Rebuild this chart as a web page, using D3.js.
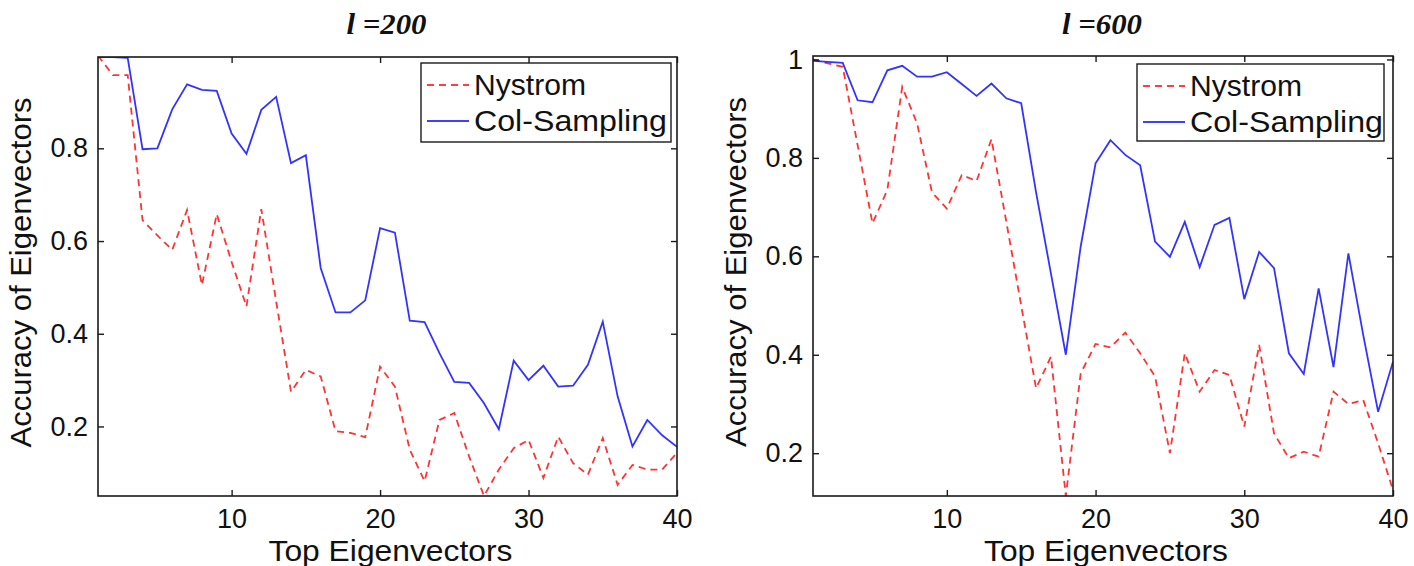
<!DOCTYPE html>
<html>
<head>
<meta charset="utf-8">
<script src="https://cdn.jsdelivr.net/npm/d3@7"></script>
<style>
  html, body { margin: 0; padding: 0; background: #fff; }
  svg { display: block; }
  text { font-family: Arial, "Liberation Sans", sans-serif; fill: #111; }
</style>
</head>
<body>
<svg id="chart" width="1414" height="566"></svg>
<script>
// ---- data ----
const components = d3.range(1, 41);
const seriesNames = ["Nystrom", "Col-Sampling"];
const panelTitles = ["200", "600"];

const nystrom200 = [1.0, 0.958, 0.958, 0.645, 0.612, 0.581, 0.667, 0.505, 0.658, 0.555,
  0.459, 0.669, 0.47, 0.275, 0.322, 0.308, 0.19, 0.186, 0.177, 0.329,
  0.286, 0.15, 0.082, 0.214, 0.229, 0.135, 0.05, 0.107, 0.153, 0.171,
  0.089, 0.178, 0.121, 0.096, 0.175, 0.074, 0.117, 0.107, 0.107, 0.143];
const colSampling200 = [0.997, 0.997, 0.995, 0.798, 0.80, 0.884, 0.938, 0.926, 0.924, 0.832,
  0.788, 0.883, 0.911, 0.768, 0.785, 0.542, 0.446, 0.446, 0.472, 0.628,
  0.618, 0.428, 0.425, 0.358, 0.296, 0.294, 0.25, 0.194, 0.342, 0.30,
  0.331, 0.286, 0.288, 0.333, 0.426, 0.265, 0.157, 0.214, 0.181, 0.156];
const nystrom600 = [1.0, 0.992, 0.985, 0.826, 0.667, 0.735, 0.944, 0.87, 0.73, 0.697,
  0.765, 0.753, 0.838, 0.67, 0.50, 0.332, 0.396, 0.113, 0.362, 0.422,
  0.415, 0.445, 0.403, 0.356, 0.20, 0.403, 0.325, 0.369, 0.359, 0.254,
  0.42, 0.24, 0.19, 0.203, 0.193, 0.325, 0.30, 0.308, 0.22, 0.125];
const colSampling600 = [0.997, 0.995, 0.993, 0.917, 0.913, 0.978, 0.987, 0.965, 0.965, 0.974,
  0.95, 0.926, 0.951, 0.921, 0.911, 0.73, 0.565, 0.40, 0.62, 0.789,
  0.836, 0.806, 0.785, 0.63, 0.599, 0.67, 0.578, 0.664, 0.678, 0.513,
  0.609, 0.576, 0.403, 0.361, 0.535, 0.375, 0.606, 0.44, 0.284, 0.386];

const xTicks = [10, 20, 30, 40];
const yTicks200 = [0.2, 0.4, 0.6, 0.8];
const yTicks600 = [0.2, 0.4, 0.6, 0.8, 1];

// ---- layout ----
const svg = d3.select("#chart");
const panels = [
  { key: "p200", title: panelTitles[0], nys: nystrom200, col: colSampling200, yTicks: yTicks200,
    yDomain: [0.05, 0.997], left: 98, right: 677, top: 57, bottom: 496, yLabelX: 31,
    legend: { x0: 421, x1: 671, y0: 63, y1: 142 } },
  { key: "p600", title: panelTitles[1], nys: nystrom600, col: colSampling600, yTicks: yTicks600,
    yDomain: [0.113, 1.007], left: 813, right: 1393, top: 56, bottom: 496, yLabelX: 746,
    legend: { x0: 1137, x1: 1384, y0: 64, y1: 141 } }
];

const colors = { nys: "#ff0000", col: "#0000ff" };
const axisColor = "#1a1a1a";

panels.forEach(p => {
  const x = d3.scaleLinear().domain([1, 40]).range([p.left, p.right]);
  const y = d3.scaleLinear().domain(p.yDomain).range([p.bottom, p.top]);
  const g = svg.append("g");

  svg.append("clipPath").attr("id", "clip-" + p.key)
    .append("rect").attr("x", p.left).attr("y", p.top)
    .attr("width", p.right - p.left).attr("height", p.bottom - p.top);

  const line = d3.line().x((d, i) => x(components[i])).y(d => y(d));

  const plot = g.append("g").attr("clip-path", "url(#clip-" + p.key + ")");
  plot.append("path").datum(p.nys).attr("d", line)
    .attr("fill", "none").attr("stroke", colors.nys).attr("stroke-width", 1.8)
    .attr("stroke-dasharray", "7,5").attr("opacity", 0.8);
  plot.append("path").datum(p.col).attr("d", line)
    .attr("fill", "none").attr("stroke", colors.col).attr("stroke-width", 1.8)
    .attr("opacity", 0.8);

  const tickLen = 6;
  const bottomAxis = d3.axisBottom(x).tickValues(xTicks).tickSize(-tickLen);
  const topAxis = d3.axisTop(x).tickValues(xTicks).tickSize(-tickLen).tickFormat("");
  const leftAxis = d3.axisLeft(y).tickValues(p.yTicks).tickSize(-tickLen).tickPadding(10)
    .tickFormat(d => d === 1 ? "1" : d3.format(".1f")(d));
  const rightAxis = d3.axisRight(y).tickValues(p.yTicks).tickSize(-tickLen).tickFormat("");

  const styleAxis = sel => {
    sel.select(".domain").remove();
    sel.selectAll(".tick line").attr("stroke", axisColor).attr("stroke-width", 1.4);
    sel.selectAll(".tick text").attr("font-size", 27).attr("fill", "#111")
      .style("font-family", "Arial, 'Liberation Sans', sans-serif");
  };
  g.append("g").attr("transform", `translate(0,${p.bottom})`).call(bottomAxis).call(styleAxis)
    .selectAll(".tick text").attr("dy", "0").attr("y", 32);
  g.append("g").attr("transform", `translate(0,${p.top})`).call(topAxis).call(styleAxis);
  g.append("g").attr("transform", `translate(${p.left},0)`).call(leftAxis).call(styleAxis);
  g.append("g").attr("transform", `translate(${p.right},0)`).call(rightAxis).call(styleAxis);

  g.append("rect").attr("x", p.left).attr("y", p.top)
    .attr("width", p.right - p.left).attr("height", p.bottom - p.top)
    .attr("fill", "none").attr("stroke", axisColor).attr("stroke-width", 1.6);

  // title
  const cx = (p.left + p.right) / 2;
  g.append("text").attr("x", cx - 1).attr("y", 34).attr("text-anchor", "middle")
    .style("font-family", "'Liberation Serif', 'DejaVu Serif', serif")
    .attr("font-size", 30).attr("font-weight", "bold").attr("font-style", "italic")
    .attr("textLength", 80).attr("lengthAdjust", "spacingAndGlyphs")
    .text("l =" + p.title);

  // axis labels
  g.append("text").attr("x", cx + 3).attr("y", 561).attr("text-anchor", "middle")
    .attr("font-size", 29).attr("textLength", 244).attr("lengthAdjust", "spacingAndGlyphs")
    .text("Top Eigenvectors");
  g.append("text").attr("transform", `translate(${p.yLabelX},${(p.top + p.bottom) / 2 - 4}) rotate(-90)`)
    .attr("text-anchor", "middle").attr("font-size", 30)
    .attr("textLength", 350).attr("lengthAdjust", "spacingAndGlyphs")
    .text("Accuracy of Eigenvectors");

  // legend
  const L = p.legend;
  g.append("rect").attr("x", L.x0).attr("y", L.y0).attr("width", L.x1 - L.x0).attr("height", L.y1 - L.y0)
    .attr("fill", "#fff").attr("stroke", axisColor).attr("stroke-width", 1.4);
  const rows = [
    { name: seriesNames[0], color: colors.nys, dash: "7,5", cy: L.y0 + 22, len: 112 },
    { name: seriesNames[1], color: colors.col, dash: null, cy: L.y0 + 58, len: 193 }
  ];
  rows.forEach(r => {
    g.append("line").attr("x1", L.x0 + 6).attr("x2", L.x0 + 48).attr("y1", r.cy).attr("y2", r.cy)
      .attr("stroke", r.color).attr("stroke-width", 1.5).attr("stroke-dasharray", r.dash);
    g.append("text").attr("x", L.x0 + 53).attr("y", r.cy).attr("dy", "0.36em")
      .attr("font-size", 29).attr("textLength", r.len).attr("lengthAdjust", "spacingAndGlyphs")
      .text(r.name);
  });
});
</script>
</body>
</html>
